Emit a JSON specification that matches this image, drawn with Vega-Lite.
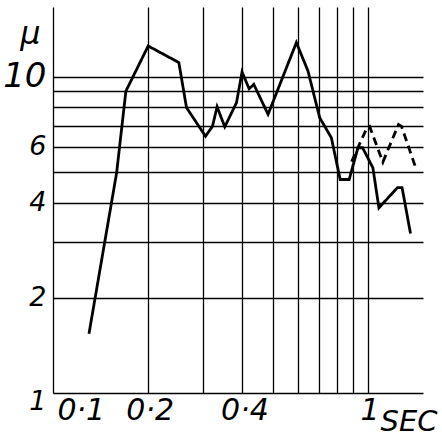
{
  "$schema": "https://vega.github.io/schema/vega-lite/v6.json",
  "width": 370,
  "height": 386,
  "autosize": {"type": "none"},
  "padding": {"left": 53, "top": 7, "right": 19, "bottom": 46},
  "background": "white",
  "config": {
    "view": {"stroke": null},
    "axis": {
      "gridColor": "#000000",
      "gridOpacity": 1,
      "gridWidth": 1.3,
      "domain": false,
      "ticks": false,
      "labelColor": "#000000",
      "labelFont": "DejaVu Sans",
      "labelFontStyle": "italic",
      "titleColor": "#000000",
      "titleFont": "DejaVu Sans",
      "titleFontStyle": "italic",
      "titleFontWeight": "normal"
    }
  },
  "data": {
    "values": [
      {"series": "solid", "i": 1, "t": 0.1301, "mu": 1.538},
      {"series": "solid", "i": 2, "t": 0.1593, "mu": 4.965},
      {"series": "solid", "i": 3, "t": 0.1705, "mu": 9.0},
      {"series": "solid", "i": 4, "t": 0.2007, "mu": 12.5},
      {"series": "solid", "i": 5, "t": 0.2512, "mu": 11.08},
      {"series": "solid", "i": 6, "t": 0.2657, "mu": 7.98},
      {"series": "solid", "i": 7, "t": 0.3053, "mu": 6.48},
      {"series": "solid", "i": 8, "t": 0.3214, "mu": 6.97},
      {"series": "solid", "i": 9, "t": 0.3323, "mu": 8.03},
      {"series": "solid", "i": 10, "t": 0.3516, "mu": 6.94},
      {"series": "solid", "i": 11, "t": 0.383, "mu": 8.27},
      {"series": "solid", "i": 12, "t": 0.399, "mu": 10.34},
      {"series": "solid", "i": 13, "t": 0.42, "mu": 9.16},
      {"series": "solid", "i": 14, "t": 0.4348, "mu": 9.45},
      {"series": "solid", "i": 15, "t": 0.4826, "mu": 7.6},
      {"series": "solid", "i": 16, "t": 0.5937, "mu": 12.81},
      {"series": "solid", "i": 17, "t": 0.6464, "mu": 10.42},
      {"series": "solid", "i": 18, "t": 0.7041, "mu": 7.42},
      {"series": "solid", "i": 19, "t": 0.767, "mu": 6.41},
      {"series": "solid", "i": 20, "t": 0.8181, "mu": 4.73},
      {"series": "solid", "i": 21, "t": 0.8737, "mu": 4.73},
      {"series": "solid", "i": 22, "t": 0.9317, "mu": 5.96},
      {"series": "solid", "i": 23, "t": 0.9641, "mu": 5.96},
      {"series": "solid", "i": 24, "t": 1.0395, "mu": 5.15},
      {"series": "solid", "i": 25, "t": 1.0863, "mu": 3.85},
      {"series": "solid", "i": 26, "t": 1.245, "mu": 4.46},
      {"series": "solid", "i": 27, "t": 1.287, "mu": 4.46},
      {"series": "solid", "i": 28, "t": 1.369, "mu": 3.19},
      {"series": "dashed", "i": 1, "t": 0.8895, "mu": 5.39},
      {"series": "dashed", "i": 2, "t": 0.9963, "mu": 6.91},
      {"series": "dashed", "i": 3, "t": 1.0147, "mu": 6.96},
      {"series": "dashed", "i": 4, "t": 1.118, "mu": 5.37},
      {"series": "dashed", "i": 5, "t": 1.254, "mu": 7.06},
      {"series": "dashed", "i": 6, "t": 1.282, "mu": 6.96},
      {"series": "dashed", "i": 7, "t": 1.428, "mu": 5.09}
    ]
  },
  "mark": {"type": "line", "color": "#000000", "strokeWidth": 2.8, "strokeJoin": "miter", "clip": true},
  "encoding": {
    "x": {
      "field": "t",
      "type": "quantitative",
      "scale": {"type": "log", "domain": [0.1, 1.5], "nice": false},
      "axis": {
        "grid": true,
        "values": [0.1, 0.2, 0.3, 0.4, 0.5, 0.6, 0.7, 0.8, 0.9, 1.0],
        "labelExpr": "datum.value == 0.1 ? '0·1' : datum.value == 0.2 ? '0·2' : datum.value == 0.4 ? '0·4' : datum.value == 1 ? '1' : ''",
        "labelFontSize": 30,
        "labelPadding": 2,
        "labelBaseline": "top",
        "labelAlign": {"condition": {"test": "datum.value < 0.15", "value": "left"}, "value": "center"},
        "labelOffset": {"condition": {"test": "datum.value < 0.15", "value": 4}, "value": 2},
        "title": "SEC",
        "titleFontSize": 29,
        "titleAlign": "left",
        "titleBaseline": "alphabetic",
        "titleX": 327,
        "titleY": 37
      }
    },
    "y": {
      "field": "mu",
      "type": "quantitative",
      "scale": {"type": "log", "domain": [1, 16.6], "nice": false},
      "axis": {
        "grid": true,
        "values": [1, 2, 3, 4, 5, 6, 7, 8, 9, 10],
        "labelExpr": "indexof([1, 2, 4, 6, 10], datum.value) >= 0 ? format(datum.value, 'd') : ''",
        "labelFontSize": {"condition": {"test": "datum.value == 10", "value": 34}, "value": 27},
        "labelOffset": {"condition": {"test": "datum.value == 1", "value": 8}, "value": 0},
        "labelPadding": 7,
        "title": "μ",
        "titleFontSize": 32,
        "titleAngle": 0,
        "titleAlign": "center",
        "titleBaseline": "alphabetic",
        "titleX": -23,
        "titleY": 36
      }
    },
    "strokeDash": {
      "field": "series",
      "type": "nominal",
      "scale": {"domain": ["solid", "dashed"], "range": [[1, 0], [8, 5]]},
      "legend": null
    },
    "order": {"field": "i", "type": "quantitative"}
  }
}
